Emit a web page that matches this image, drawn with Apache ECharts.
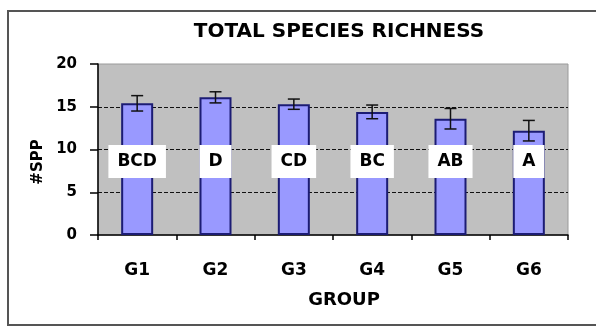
<!DOCTYPE html>
<html>
<head>
<meta charset="utf-8">
<script src="https://cdn.jsdelivr.net/npm/echarts@6/dist/echarts.min.js"></script>
<style>
  html, body { margin: 0; padding: 0; background: #fff; }
  #chart { width: 596px; height: 327px; }
</style>
</head>
<body>
<div id="chart"></div>
<script>
// Mean species richness per group with standard-error bars and significance letters
const groups = ['G1', 'G2', 'G3', 'G4', 'G5', 'G6'];
const meanSpp = [15.4, 16.1, 15.3, 14.4, 13.6, 12.2];
const errSpp = [0.9, 0.65, 0.6, 0.8, 1.2, 1.2];
const letters = ['BCD', 'D', 'CD', 'BC', 'AB', 'A'];
const letterLevel = [8.6, 8.6, 8.6, 8.6, 8.6, 8.6];
const yTicks = [0, 5, 10, 15, 20];

const FONT = 'DejaVu Sans';

const chart = echarts.init(document.getElementById('chart'), null, { renderer: 'canvas' });

chart.setOption({
  animation: false,
  backgroundColor: '#ffffff',
  title: {
    text: 'TOTAL SPECIES RICHNESS',
    left: 334,
    top: 17,
    textAlign: 'center',
    textStyle: { fontFamily: FONT, fontWeight: 'bold', fontSize: 20, color: '#000' }
  },
  graphic: [{
    type: 'rect',
    shape: { x: 8, y: 11, width: 600, height: 314 },
    style: { fill: 'none', stroke: '#555', lineWidth: 2 },
    silent: true
  }],
  grid: {
    left: 98, right: 28, top: 64, bottom: 92,
    show: true, backgroundColor: '#c0c0c0', borderColor: '#9a9a9a', borderWidth: 1
  },
  xAxis: {
    type: 'category',
    data: groups,
    name: 'GROUP',
    nameLocation: 'middle',
    nameGap: 56,
    nameTextStyle: { fontFamily: FONT, fontWeight: 'bold', fontSize: 18, color: '#000', padding: [0, 0, 0, 22] },
    axisLine: { lineStyle: { color: '#000', width: 1.5 } },
    axisTick: { show: true, length: 5, lineStyle: { color: '#000', width: 1.5 } },
    axisLabel: { fontFamily: FONT, fontWeight: 'bold', fontSize: 17, color: '#000', margin: 27 }
  },
  yAxis: {
    type: 'value',
    min: yTicks[0],
    max: yTicks[yTicks.length - 1],
    interval: 5,
    name: '#SPP',
    nameLocation: 'middle',
    nameRotate: 90,
    nameGap: 52,
    nameTextStyle: { fontFamily: FONT, fontWeight: 'bold', fontSize: 15, color: '#000', padding: [0, 25, 0, 0] },
    axisLine: { show: true, lineStyle: { color: '#000', width: 1.5 } },
    axisTick: { show: true, length: 8, lineStyle: { color: '#000', width: 1.5 } },
    axisLabel: { fontFamily: FONT, fontWeight: 'bold', fontSize: 15, color: '#000', margin: 21 },
    splitLine: {
      show: true, showMinLine: false, showMaxLine: false,
      lineStyle: { color: '#111', width: 1, type: [4, 2] }
    }
  },
  series: [
    {
      type: 'bar',
      data: meanSpp,
      barWidth: 32,
      itemStyle: { color: '#9999ff', borderColor: '#1c1c74', borderWidth: 2 },
      z: 2
    },
    {
      type: 'custom',
      z: 3,
      renderItem: function (params, api) {
        const i = api.value(0);
        const m = api.value(1);
        const e = api.value(2);
        const top = api.coord([i, m + e]);
        const bot = api.coord([i, m - e]);
        const cap = 6;
        const st = { stroke: '#111', lineWidth: 1.5 };
        return {
          type: 'group',
          children: [
            { type: 'line', shape: { x1: top[0], y1: top[1], x2: bot[0], y2: bot[1] }, style: st },
            { type: 'line', shape: { x1: top[0] - cap, y1: top[1], x2: top[0] + cap, y2: top[1] }, style: st },
            { type: 'line', shape: { x1: bot[0] - cap, y1: bot[1], x2: bot[0] + cap, y2: bot[1] }, style: st }
          ]
        };
      },
      data: meanSpp.map((m, i) => [i, m, errSpp[i]])
    },
    {
      type: 'scatter',
      z: 4,
      symbolSize: 0,
      itemStyle: { opacity: 1 },
      data: letterLevel.map((v, i) => [i, v, letters[i]]),
      label: {
        show: true,
        position: 'inside',
        formatter: p => p.value[2],
        fontFamily: FONT,
        fontWeight: 'bold',
        fontSize: 17,
        color: '#000',
        backgroundColor: '#ffffff',
        padding: [8, 9]
      }
    }
  ]
});
</script>
</body>
</html>
